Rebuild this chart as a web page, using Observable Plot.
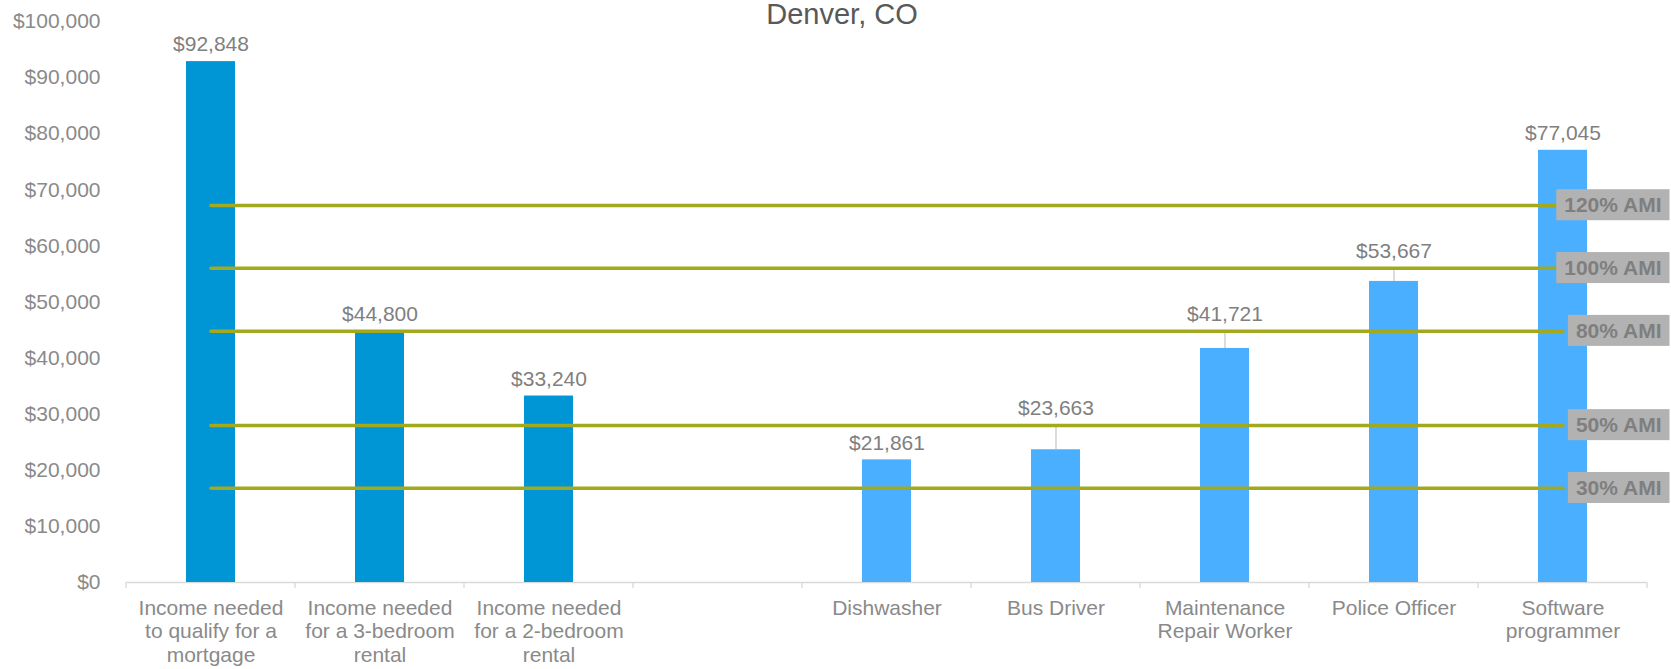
<!DOCTYPE html>
<html>
<head>
<meta charset="utf-8">
<script src="https://cdn.jsdelivr.net/npm/d3@7"></script>
<script src="https://cdn.jsdelivr.net/npm/@observablehq/plot@0.6"></script>
<style>
  html, body { margin: 0; padding: 0; background: #fff; }
  #chart svg { display: block; }
</style>
</head>
<body>
<div id="chart"></div>
<script>
// ---- data ----
const title = "Denver, CO";
const categories = [
  "Income needed\nto qualify for a\nmortgage",
  "Income needed\nfor a 3-bedroom\nrental",
  "Income needed\nfor a 2-bedroom\nrental",
  " ",
  "Dishwasher",
  "Bus Driver",
  "Maintenance\nRepair Worker",
  "Police Officer",
  "Software\nprogrammer"
];
const values = [92848, 44800, 33240, null, 21861, 23663, 41721, 53667, 77045];
const groups = ["housing", "housing", "housing", null, "job", "job", "job", "job", "job"];
const groupKeys = ["housing", "job"];
const barColors = ["#0096d6", "#4bafff"];
const amiLevels = ["30% AMI", "50% AMI", "80% AMI", "100% AMI", "120% AMI"];
const amiValues = [16800, 28000, 44800, 56000, 67200];
const yTicks = [0, 10000, 20000, 30000, 40000, 50000, 60000, 70000, 80000, 90000, 100000];

// ---- derived tables ----
const fmt = v => "$" + d3.format(",")(v);
// a value label sits above an AMI line if that line is just above the bar top
const bars = categories.map((c, i) => {
  const v = values[i];
  if (v == null) return null;
  const near = amiValues.find(a => a >= v - 200 && a - v < 4500);
  return {cat: c, value: v, group: groups[i], base: near ?? v};
}).filter(d => d);
const leaders = bars.filter(d => d.base !== d.value);
const amiLine = amiLevels.flatMap((l, i) => [
  {level: l, cat: categories[0], value: amiValues[i]},
  {level: l, cat: categories[categories.length - 1], value: amiValues[i]}
]);
const amiData = amiLevels.map((l, i) => ({level: l, value: amiValues[i]}));

const gray = "#8a8a8a";
const chart = Plot.plot({
  width: 1671,
  height: 669,
  marginLeft: 126,
  marginRight: 24,
  marginTop: 21,
  marginBottom: 87,
  style: {fontFamily: '"Liberation Sans", Arial, Helvetica, sans-serif', background: "#fff", overflow: "visible"},
  x: {type: "band", domain: categories, paddingInner: 0.71, paddingOuter: 0.355, label: null},
  y: {domain: [0, 100000], label: null},
  color: {domain: groupKeys, range: barColors},
  marks: [
    Plot.ruleY([0], {stroke: "#d9d9d9", strokeWidth: 1.3}),
    Plot.barY(bars, {x: "cat", y: "value", fill: "group"}),
    Plot.ruleX(leaders, {x: "cat", y1: "value", y2: "base", stroke: "#c4c4c4", strokeWidth: 1.2}),
    Plot.line(amiLine, {x: "cat", y: "value", z: "level", stroke: "#a2a91c", strokeWidth: 3.5}),
    Plot.text(bars, {x: "cat", y: "base", text: d => fmt(d.value), dy: -17, fontSize: 21, fill: "#7f7f7f"}),
    Plot.text(amiData, {y: "value", text: "level", frameAnchor: "right", textAnchor: "end", dx: 14,
      fontSize: 21, fontWeight: "bold", fill: "#7f7f7f"}),
    Plot.axisY({ticks: yTicks, tickSize: 0, tickPadding: 26, tickFormat: fmt, fontSize: 21, color: gray, label: null}),
    Plot.axisX({tickSize: 0, tickPadding: 15, fontSize: 21, lineHeight: 1.14, color: gray, label: null, tickFormat: d => d}),
    Plot.text([title], {text: d => d, frameAnchor: "top", dx: -45, dy: -18, fontSize: 29, fill: "#595959"})
  ]
});
document.getElementById("chart").appendChild(chart);

// grey boxes behind the AMI labels (same local coordinates as each label)
const amiTexts = Array.from(chart.querySelectorAll("text")).filter(t => amiLevels.includes(t.textContent.trim()));
amiTexts.forEach(t => {
  const bb = t.getBBox();
  const r = document.createElementNS("http://www.w3.org/2000/svg", "rect");
  const tr = t.getAttribute("transform");
  if (tr) r.setAttribute("transform", tr);
  const cy = bb.y + bb.height / 2;
  r.setAttribute("x", bb.x - 8);
  r.setAttribute("width", bb.width + 16);
  r.setAttribute("y", cy - 15.5);
  r.setAttribute("height", 31);
  r.setAttribute("fill", "#b2b2b2");
  t.parentNode.insertBefore(r, t);
});

// tick marks at the category boundaries of the band axis
const ys = chart.scale("y");
const xs = chart.scale("x");
const y0 = ys.apply(0);
const tickG = d3.select(chart).append("g").attr("stroke", "#d9d9d9").attr("stroke-width", 1.3);
for (let i = 0; i <= categories.length; i++) {
  const x = xs.range[0] + i * xs.step;
  tickG.append("line").attr("x1", x).attr("x2", x).attr("y1", y0).attr("y2", y0 + 6);
}
</script>
</body>
</html>
